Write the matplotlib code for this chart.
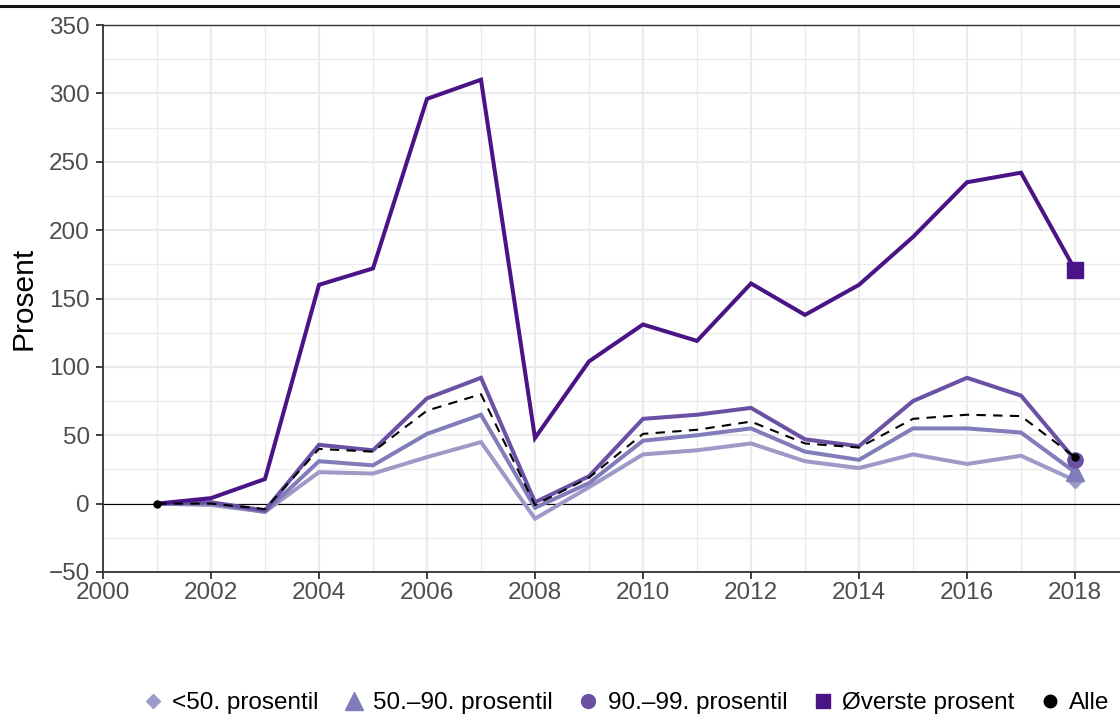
import matplotlib
matplotlib.use("Agg")
import matplotlib.pyplot as plt
from matplotlib.lines import Line2D
from matplotlib.ticker import MultipleLocator

plt.rcParams['font.family'] = ['Liberation Sans', 'DejaVu Sans']

years = list(range(2001, 2019))
under50 = [0, -1, -6, 23, 22, 34, 45, -11, 12, 36, 39, 44, 31, 26, 36, 29, 35, 17]
p50_90 = [0, 0, -6, 31, 28, 51, 65, -3, 15, 46, 50, 55, 38, 32, 55, 55, 52, 23]
p90_99 = [0, 1, -5, 43, 39, 77, 92, 1, 20, 62, 65, 70, 47, 42, 75, 92, 79, 32]
top1 = [0, 4, 18, 160, 172, 296, 310, 48, 104, 131, 119, 161, 138, 160, 195, 235, 242, 171]
alle = [0, 0, -4, 40, 38, 68, 80, -1, 19, 51, 54, 60, 44, 41, 62, 65, 64, 34]

labels = ['<50. prosentil', '50.\u201390. prosentil', '90.\u201399. prosentil', '\u00d8verste prosent', 'Alle']
colors = ['#9E9AC8', '#807DBA', '#6A51A3', '#4A1486', '#000000']
markers = ['D', '^', 'o', 's', 'o']
msizes = [8, 13, 11, 11.5, 5]

fig = plt.figure(figsize=(11.2, 7.15), dpi=100)
ax = fig.add_axes([103/1120, 143/715, 1026/1120, 547/715])

ax.set_xlim(2000, 2019)
ax.set_ylim(-50, 350)
ax.xaxis.set_major_locator(MultipleLocator(2))
ax.xaxis.set_minor_locator(MultipleLocator(1))
ax.yaxis.set_major_locator(MultipleLocator(50))
ax.yaxis.set_minor_locator(MultipleLocator(25))
ax.grid(which='major', color='#EBEBEB', linewidth=1.6)
ax.grid(which='minor', color='#EBEBEB', linewidth=0.9)
ax.set_axisbelow(True)
ax.axhline(0, color='black', linewidth=0.8, zorder=1.5)

series = [under50, p50_90, p90_99, top1]
for s, c, m, ms in zip(series, colors[:4], markers[:4], msizes[:4]):
    ax.plot(years, s, color=c, linewidth=2.9, solid_joinstyle='miter', zorder=2)
    ax.plot([years[-1]], [s[-1]], marker=m, color=c, markersize=ms, linestyle='none', zorder=3)
ax.plot(years, alle, color='black', linewidth=1.5, linestyle=(0, (4.5, 3.5)), zorder=4)
ax.plot([years[0], years[-1]], [alle[0], alle[-1]], marker='o', color='black', markersize=msizes[4], linestyle='none', zorder=5)

ax.spines['right'].set_visible(False)
ax.spines['top'].set_color('#333333')
ax.spines['top'].set_linewidth(1.0)
for side in ['left', 'bottom']:
    ax.spines[side].set_color('#333333')
    ax.spines[side].set_linewidth(1.3)
ax.tick_params(which='major', length=5, width=1.3, color='#333333', labelsize=17.5, labelcolor='#4D4D4D')
ax.tick_params(axis='y', pad=4.5)
ax.tick_params(axis='x', pad=2.5)
ax.tick_params(which='minor', length=0)
ax.set_ylabel('Prosent', fontsize=21.5, labelpad=8)

fig.add_artist(Line2D([0, 1], [1 - 5.5/715, 1 - 5.5/715], transform=fig.transFigure, color='#111111', linewidth=2.2))

handles = [Line2D([], [], marker=m, color=c, markersize=ms, linestyle='none')
           for c, m, ms in zip(colors, markers, [7.5, 13, 10, 10, 9])]
fig.legend(handles, labels, loc='center', bbox_to_anchor=(625/1120, 1 - 703/715), ncol=5, frameon=False,
           fontsize=17.5, handletextpad=0.3, columnspacing=0.95, handlelength=1.0)

fig.savefig('out.png', dpi=100)
